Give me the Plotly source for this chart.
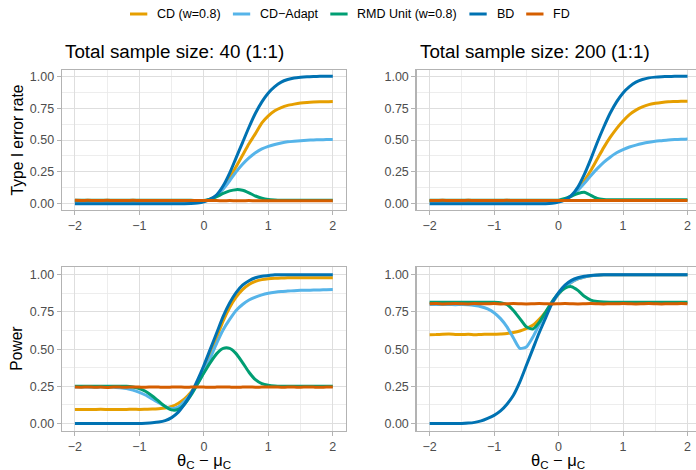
import plotly.graph_objects as go

# ---------------- data ----------------
x = [round(-2 + 0.1 * i, 1) for i in range(41)]

series_names = ["CD (w=0.8)", "CD\u2212Adapt", "RMD Unit (w=0.8)", "BD", "FD"]
series_colors = ["#E69F00", "#56B4E9", "#009E73", "#0072B2", "#D55E00"]

panel_titles = ["Total sample size: 40 (1:1)", "Total sample size: 200 (1:1)"]
row_titles = ["Type I error rate", "Power"]
x_ticks = [-2, -1, 0, 1, 2]
x_ticklabels = ["\u22122", "\u22121", "0", "1", "2"]
y_ticks = [0, 0.25, 0.5, 0.75, 1.0]
y_ticklabels = ["0.00", "0.25", "0.50", "0.75", "1.00"]

# Type I error, n = 40
t40_cd = [0.02]*19 + [0.02, 0.022, 0.035, 0.065, 0.12, 0.2, 0.29, 0.38, 0.47, 0.55, 0.635,
          0.69, 0.73, 0.755, 0.772, 0.782, 0.79, 0.795, 0.798, 0.8, 0.8, 0.802, 0.803]
t40_cda = [0.02]*19 + [0.02, 0.021, 0.035, 0.065, 0.115, 0.18, 0.25, 0.31, 0.36, 0.40, 0.43,
           0.45, 0.465, 0.477, 0.486, 0.491, 0.495, 0.498, 0.5, 0.502, 0.503, 0.504, 0.505]
t40_rmd = [0.026, 0.026, 0.027, 0.026, 0.026, 0.027, 0.026, 0.026, 0.026, 0.027, 0.026,
           0.026, 0.026, 0.026, 0.027, 0.026, 0.026, 0.026, 0.026, 0.025, 0.025,
           0.035, 0.055, 0.08, 0.1, 0.11, 0.105, 0.085, 0.06, 0.042, 0.032,
           0.028, 0.026, 0.026, 0.026, 0.026, 0.026, 0.026, 0.026, 0.026, 0.026]
t40_bd = [0.0]*17 + [0.0, 0.001, 0.005, 0.015, 0.035, 0.07, 0.14, 0.24, 0.36, 0.48, 0.6, 0.71,
          0.8, 0.87, 0.92, 0.955, 0.975, 0.987, 0.993, 0.997, 0.999, 1.0, 1.0, 1.0]
t40_fd = [0.026, 0.025, 0.026, 0.025, 0.025, 0.026, 0.025, 0.025, 0.025, 0.026, 0.025,
          0.025, 0.025, 0.024, 0.025, 0.025, 0.024, 0.025, 0.025, 0.024, 0.024,
          0.024, 0.024, 0.023, 0.024, 0.023, 0.023, 0.024, 0.023, 0.023, 0.023,
          0.023, 0.023, 0.022, 0.023, 0.023, 0.022, 0.023, 0.023, 0.022, 0.023]

# Type I error, n = 200
t200_cd = [0.02]*20 + [0.021, 0.033, 0.06, 0.11, 0.18, 0.26, 0.35, 0.44, 0.52, 0.59, 0.65,
           0.7, 0.735, 0.76, 0.778, 0.788, 0.795, 0.8, 0.802, 0.804, 0.805]
t200_cda = [0.02]*20 + [0.021, 0.033, 0.06, 0.105, 0.16, 0.22, 0.275, 0.325, 0.365, 0.4, 0.425,
            0.445, 0.46, 0.472, 0.482, 0.49, 0.495, 0.5, 0.503, 0.505, 0.508]
t200_rmd = [0.027]*20 + [0.027, 0.04, 0.06, 0.08, 0.09, 0.065, 0.04, 0.032, 0.03, 0.03, 0.03,
            0.03, 0.03, 0.03, 0.03, 0.03, 0.03, 0.03, 0.03, 0.03, 0.03]
t200_bd = [0.0]*18 + [0.0, 0.003, 0.012, 0.03, 0.065, 0.13, 0.23, 0.35, 0.48, 0.6, 0.71, 0.8,
           0.87, 0.92, 0.955, 0.975, 0.988, 0.994, 0.997, 0.999, 1.0, 1.0, 1.0]
t200_fd = [0.025, 0.025, 0.026, 0.025, 0.025, 0.025, 0.026, 0.025, 0.025, 0.025, 0.025,
           0.025, 0.026, 0.025, 0.025, 0.025, 0.025, 0.025, 0.025, 0.025, 0.025,
           0.025, 0.025, 0.025, 0.024, 0.025, 0.025, 0.025, 0.024, 0.025, 0.025,
           0.025, 0.025, 0.024, 0.025, 0.025, 0.025, 0.025, 0.025, 0.025, 0.025]

# Power, n = 40
p40_cd = [0.094, 0.095, 0.094, 0.095, 0.096, 0.095, 0.094, 0.095, 0.095, 0.096, 0.095,
          0.096, 0.097, 0.1, 0.105, 0.115, 0.135, 0.165, 0.21, 0.27, 0.36,
          0.47, 0.58, 0.69, 0.78, 0.85, 0.9, 0.935, 0.955, 0.967, 0.973,
          0.976, 0.978, 0.979, 0.98, 0.98, 0.98, 0.98, 0.98, 0.98, 0.98]
p40_cda = [0.245, 0.245, 0.245, 0.244, 0.245, 0.245, 0.244, 0.24, 0.235, 0.225, 0.21,
           0.19, 0.165, 0.14, 0.115, 0.1, 0.11, 0.15, 0.2, 0.265, 0.345,
           0.44, 0.54, 0.63, 0.7, 0.76, 0.8, 0.83, 0.85, 0.865, 0.875,
           0.882, 0.887, 0.89, 0.893, 0.895, 0.896, 0.897, 0.898, 0.899, 0.9]
p40_rmd = [0.25, 0.25, 0.25, 0.25, 0.25, 0.25, 0.25, 0.25, 0.25, 0.245, 0.235,
           0.215, 0.185, 0.15, 0.115, 0.092, 0.095, 0.13, 0.19, 0.265, 0.34,
           0.41, 0.47, 0.505, 0.505, 0.47, 0.41, 0.345, 0.295, 0.268, 0.257,
           0.252, 0.25, 0.25, 0.25, 0.25, 0.25, 0.25, 0.25, 0.25, 0.25]
p40_bd = [0.0]*10 + [0.0, 0.002, 0.005, 0.01, 0.02, 0.04, 0.075, 0.13, 0.2, 0.29, 0.39,
          0.5, 0.61, 0.72, 0.81, 0.88, 0.93, 0.96, 0.98, 0.99, 0.995,
          1.0, 1.0, 1.0, 1.0, 1.0, 1.0, 1.0, 1.0, 1.0, 1.0]
p40_fd = [0.245, 0.244, 0.246, 0.244, 0.245, 0.243, 0.246, 0.245, 0.244, 0.246, 0.245,
          0.244, 0.246, 0.245, 0.244, 0.245, 0.246, 0.244, 0.245, 0.246, 0.245,
          0.244, 0.245, 0.246, 0.245, 0.244, 0.245, 0.246, 0.244, 0.245, 0.245,
          0.246, 0.244, 0.245, 0.245, 0.244, 0.246, 0.245, 0.244, 0.245, 0.245]

# Power, n = 200
p200_cd = [0.597, 0.598, 0.6, 0.601, 0.599, 0.598, 0.6, 0.597, 0.599, 0.6, 0.6,
           0.602, 0.605, 0.612, 0.622, 0.638, 0.66, 0.7, 0.75, 0.81, 0.87,
           0.915, 0.95, 0.972, 0.985, 0.993, 0.997, 1.0, 1.0, 1.0, 1.0,
           1.0, 1.0, 1.0, 1.0, 1.0, 1.0, 1.0, 1.0, 1.0, 1.0]
p200_cda = [0.8, 0.8, 0.8, 0.8, 0.799, 0.8, 0.798, 0.793, 0.785, 0.77, 0.745,
            0.705, 0.65, 0.575, 0.505, 0.515, 0.58, 0.665, 0.74, 0.81, 0.87,
            0.915, 0.95, 0.972, 0.985, 0.993, 0.997, 1.0, 1.0, 1.0, 1.0,
            1.0, 1.0, 1.0, 1.0, 1.0, 1.0, 1.0, 1.0, 1.0, 1.0]
p200_rmd = [0.815, 0.815, 0.815, 0.815, 0.815, 0.815, 0.815, 0.815, 0.815, 0.815, 0.815,
            0.812, 0.8, 0.76, 0.705, 0.65, 0.635, 0.68, 0.75, 0.82, 0.875,
            0.91, 0.92, 0.895, 0.855, 0.83, 0.82, 0.816, 0.815, 0.815, 0.815,
            0.815, 0.815, 0.815, 0.815, 0.815, 0.815, 0.815, 0.815, 0.815, 0.815]
p200_bd = [0.0]*5 + [0.001, 0.003, 0.008, 0.018, 0.035, 0.055, 0.085, 0.13, 0.19, 0.28, 0.39,
           0.5, 0.61, 0.71, 0.81, 0.88, 0.93, 0.962, 0.98, 0.99, 0.995, 0.998,
           1.0, 1.0, 1.0, 1.0, 1.0, 1.0, 1.0, 1.0, 1.0, 1.0, 1.0, 1.0, 1.0, 1.0]
p200_fd = [0.805, 0.806, 0.804, 0.805, 0.806, 0.805, 0.804, 0.806, 0.805, 0.805, 0.806,
           0.804, 0.805, 0.806, 0.805, 0.804, 0.805, 0.806, 0.805, 0.804, 0.805,
           0.806, 0.805, 0.804, 0.805, 0.806, 0.805, 0.804, 0.805, 0.805, 0.806,
           0.805, 0.804, 0.805, 0.806, 0.805, 0.804, 0.805, 0.805, 0.806, 0.805]

panels = [
    [t40_cd, t40_cda, t40_rmd, t40_bd, t40_fd],
    [t200_cd, t200_cda, t200_rmd, t200_bd, t200_fd],
    [p40_cd, p40_cda, p40_rmd, p40_bd, p40_fd],
    [p200_cd, p200_cda, p200_rmd, p200_bd, p200_fd],
]

# ---------------- layout geometry ----------------
W, H = 696, 470
col_px = [(62.0, 345.7), (416.7, 696.0)]
row_px = [(70.0, 210.0), (267.3, 431.0)]
unit_px = (345.7 - 62.0) / 4.4
x_ranges = [[-2.2, 2.2], [-2.2, -2.2 + (696.0 - 416.7) / unit_px]]

FONT = "Liberation Sans, Arial, sans-serif"
TICK_FONT = dict(family=FONT, size=12.5, color="#4D4D4D")
GRID = "#DEDEDE"
MINOR = "#E8E8E8"
BORDER = "#B3B3B3"

fig = go.Figure()
layout = dict(
    width=W, height=H, margin=dict(l=0, r=0, t=0, b=0, autoexpand=False),
    paper_bgcolor="white", plot_bgcolor="white", showlegend=False,
    font=dict(family=FONT, color="black"),
)

for p in range(4):
    r, c = divmod(p, 2)
    k = p + 1
    xa = "xaxis" if k == 1 else f"xaxis{k}"
    ya = "yaxis" if k == 1 else f"yaxis{k}"
    xref = "x" if k == 1 else f"x{k}"
    yref = "y" if k == 1 else f"y{k}"
    for s in range(5):
        fig.add_trace(go.Scatter(
            x=x, y=panels[p][s], mode="lines", name=series_names[s],
            line=dict(color=series_colors[s], width=3, shape="spline", smoothing=0.6),
            xaxis=xref, yaxis=yref, showlegend=False, hoverinfo="skip"))
    x0, x1 = col_px[c]
    y0, y1 = row_px[r]
    layout[xa] = dict(
        domain=[x0 / W, x1 / W], anchor=yref, range=x_ranges[c],
        tickvals=x_ticks, ticktext=x_ticklabels,
        ticks="outside", ticklen=4, tickcolor=BORDER, tickwidth=1,
        tickfont=TICK_FONT, showgrid=True, gridcolor=GRID, gridwidth=1,
        minor=dict(tickvals=[-1.5, -0.5, 0.5, 1.5], showgrid=True, gridcolor=MINOR, gridwidth=0.8),
        showline=True, mirror=True, linecolor=BORDER, linewidth=1.4, zeroline=False,
        automargin=False, fixedrange=True,
    )
    layout[ya] = dict(
        domain=[1 - y1 / H, 1 - y0 / H], anchor=xref, range=[-0.05, 1.05],
        tickvals=y_ticks, ticktext=y_ticklabels,
        ticks="outside", ticklen=4, tickcolor=BORDER, tickwidth=1,
        tickfont=TICK_FONT, showgrid=True, gridcolor=GRID, gridwidth=1,
        minor=dict(tickvals=[0.125, 0.375, 0.625, 0.875], showgrid=True, gridcolor=MINOR, gridwidth=0.8),
        showline=True, mirror=True, linecolor=BORDER, linewidth=1.4, zeroline=False,
        automargin=False, fixedrange=True,
    )

annotations = []
shapes = []

# panel titles
for c in range(2):
    annotations.append(dict(
        text=panel_titles[c], x=col_px[c][0] / W + 1 / W, y=1 - 52 / H,
        xref="paper", yref="paper", xanchor="left", yanchor="middle",
        showarrow=False, font=dict(size=18.8, color="black")))

# y axis titles
for r in range(2):
    yc = (row_px[r][0] + row_px[r][1]) / 2
    annotations.append(dict(
        text=row_titles[r], x=16.5 / W, y=1 - yc / H, textangle=-90,
        xref="paper", yref="paper", xanchor="center", yanchor="middle",
        showarrow=False, font=dict(size=15.6, color="black")))

# x axis titles
for c in range(2):
    xc = 204 if c == 0 else 558
    annotations.append(dict(
        text="\u03b8<sub>C</sub> \u2212 \u03bc<sub>C</sub>", x=xc / W, y=1 - 461 / H,
        xref="paper", yref="paper", xanchor="center", yanchor="middle",
        showarrow=False, font=dict(size=16.5, color="black")))

# legend (manual, top), ggplot-like horizontal key layout
leg_text_w = [63.5, 58.0, 99.7, 17.4, 16.7]
key_w, key_gap, item_gap = 17.3, 7.8, 14.3
total_w = sum(leg_text_w) + 5 * (key_w + key_gap) + 4 * item_gap
lx = W / 2 - total_w / 2 + 1
leg_y = 14
for s in range(5):
    shapes.append(dict(type="line", xref="paper", yref="paper",
                       x0=lx / W, x1=(lx + key_w) / W, y0=1 - leg_y / H, y1=1 - leg_y / H,
                       line=dict(color=series_colors[s], width=3)))
    annotations.append(dict(
        text=series_names[s], x=(lx + key_w + key_gap) / W, y=1 - leg_y / H,
        xref="paper", yref="paper", xanchor="left", yanchor="middle",
        showarrow=False, font=dict(size=12.5, color="black")))
    lx += key_w + key_gap + leg_text_w[s] + item_gap

layout["annotations"] = annotations
layout["shapes"] = shapes
fig.update_layout(**layout)
fig.write_html("out.html", config={"displayModeBar": False, "staticPlot": True},
               post_script="document.body.style.margin='0';document.body.style.padding='0';")
